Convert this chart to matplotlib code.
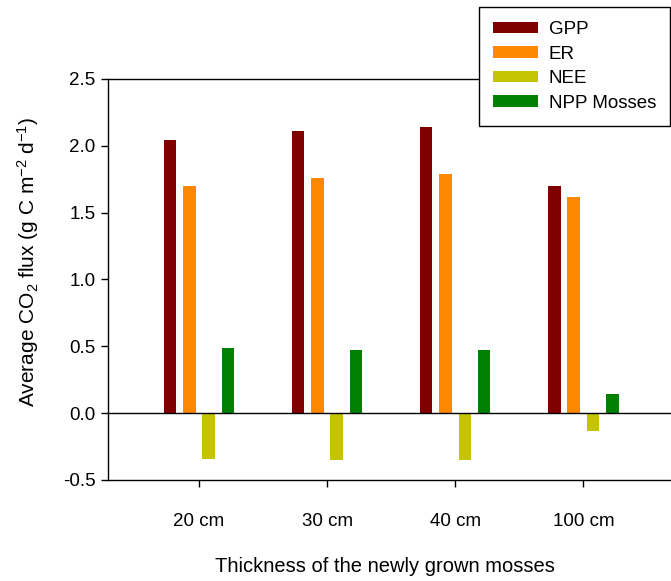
import matplotlib
matplotlib.use("Agg")
import matplotlib.pyplot as plt
import numpy as np

categories = ["20 cm", "30 cm", "40 cm", "100 cm"]
series_names = ["GPP", "ER", "NEE", "NPP Mosses"]
gpp = [2.04, 2.11, 2.14, 1.70]
er = [1.70, 1.76, 1.79, 1.62]
nee = [-0.34, -0.35, -0.35, -0.13]
npp = [0.49, 0.47, 0.47, 0.14]
colors = ["#800000", "#FF8800", "#C4C400", "#008000"]
yticks = [-0.5, 0.0, 0.5, 1.0, 1.5, 2.0, 2.5]

plt.rcParams['font.family'] = ['Liberation Sans', 'DejaVu Sans']
plt.rcParams['mathtext.default'] = 'regular'

W, H = 671, 581
fig = plt.figure(figsize=(W / 100, H / 100), dpi=100)
ax = fig.add_axes([108 / W, 1 - 480 / H, (673 - 108) / W, (480 - 79) / H])

x = np.arange(len(categories))
step = 0.151
width = 0.098
for i, (name, vals) in enumerate(zip(series_names, [gpp, er, nee, npp])):
    ax.bar(x + (i - 1.5) * step, vals, width, color=colors[i], label=name, zorder=2)

ax.axhline(0, color="black", linewidth=1.0, zorder=3)
ax.set_xlim(-0.71, 3.70)
ax.set_ylim(-0.5, 2.5)
ax.set_yticks(yticks)
ax.set_yticklabels([f"{v:.1f}" for v in yticks])
ax.set_xticks(x)
ax.set_xticklabels(categories)
ax.tick_params(axis='both', direction='out', length=5, width=1, labelsize=13.5)
ax.tick_params(axis='x', pad=19)
ax.tick_params(axis='y', pad=4)
ax.spines['right'].set_visible(False)
for s in ['left', 'top', 'bottom']:
    ax.spines[s].set_linewidth(1.0)

fig.text(28 / W, 1 - 262 / H, "Average CO$_2$ flux (g C m$^{-2}$ d$^{-1}$)",
         fontsize=15, rotation=90, ha='center', va='center')
fig.text(385 / W, 1 - 567 / H, "Thickness of the newly grown mosses",
         fontsize=14.5, ha='center', va='center')

leg = fig.legend(loc='upper right', bbox_to_anchor=(670 / W, 1 - 7 / H),
                 borderaxespad=0, fancybox=False, edgecolor='black',
                 fontsize=13.5, handlelength=2.4, handleheight=0.55,
                 labelspacing=0.4, borderpad=0.75, handletextpad=0.55, framealpha=1)
leg.get_frame().set_linewidth(1.0)

fig.savefig("out.png", dpi=100)
